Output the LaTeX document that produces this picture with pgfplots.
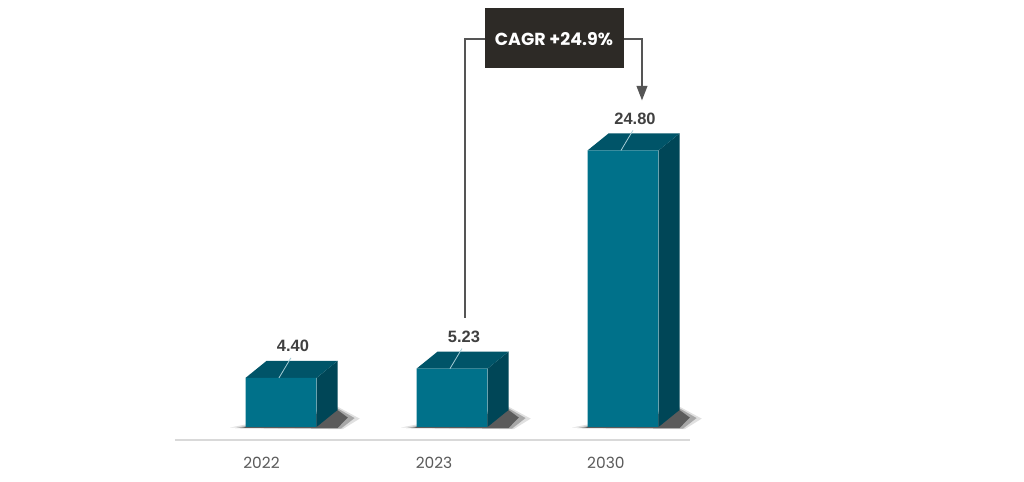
\documentclass[border=0pt]{standalone}
\usepackage{fontspec}
\setmainfont{Poppins}
\newfontfamily\valfont{Liberation Sans}
\usepackage{pgfplots}
\usepackage{pgfplotstable}
\pgfplotsset{compat=1.18}
\definecolor{frontc}{HTML}{00718A}
\definecolor{topc}{HTML}{005468}
\definecolor{sidec}{HTML}{004657}
\definecolor{boxc}{HTML}{2D2A26}
\definecolor{linec}{HTML}{555555}
\definecolor{yearc}{HTML}{5A5A5A}
\definecolor{valc}{HTML}{404040}
\pgfplotstableread{
x v
0 4.40
1 5.23
2 24.80
}\datatable
\pgfplotstablegetelem{0}{v}\of\datatable \let\va\pgfplotsretval
\pgfplotstablegetelem{1}{v}\of\datatable \let\vb\pgfplotsretval
\pgfplotstablegetelem{2}{v}\of\datatable \let\vc\pgfplotsretval
\def\dx{0.1228}
\def\dy{1.525}
\def\hw{0.2076}
\newcommand\sidefaces[3]{%
  % shadow (soft, layered)
  \fill[black,opacity=0.12] (axis cs:#1-\hw-0.09,-0.05) -- (axis cs:#1+\hw+\dx+0.03,-0.2)
     -- (axis cs:#1+\hw+\dx+0.13,0.75) -- (axis cs:#1+\hw+\dx,\dy+0.3) -- cycle;
  \fill[black,opacity=0.25] (axis cs:#1-\hw-0.06,-0.1) -- (axis cs:#1+\hw+\dx+0.02,-0.15)
     -- (axis cs:#1+\hw+\dx+0.1,0.8) -- (axis cs:#1+\hw+\dx,\dy+0.15) -- cycle;
  \fill[black,opacity=0.45] (axis cs:#1-\hw-0.03,-0.1) -- (axis cs:#1+\hw+\dx,-0.1)
     -- (axis cs:#1+\hw+\dx+0.06,0.85) -- (axis cs:#1+\hw+\dx,\dy) -- cycle;
  % side
  \fill[sidec] (axis cs:#1+\hw,0) -- (axis cs:#1+\hw,#2) -- (axis cs:#1+\hw+\dx,#2+\dy) -- (axis cs:#1+\hw+\dx,\dy) -- cycle;
  % top
  \fill[topc] (axis cs:#1-\hw,#2) -- (axis cs:#1+\hw,#2) -- (axis cs:#1+\hw+\dx,#2+\dy) -- (axis cs:#1-\hw+\dx,#2+\dy) -- cycle;
}
\newcommand\valuelabel[3]{%
  \draw[white!65!frontc, line width=0.8bp] (axis cs:#1-0.012,#2) -- (axis cs:#1+0.058,#2+1.8);
  \node[font=\valfont\bfseries\fontsize{16.5}{19}\selectfont, text=valc, anchor=center] at (axis cs:#1+0.07,#2+2.87) {#3};
}
\begin{document}
\begin{tikzpicture}
\begin{axis}[
  scale only axis, width=1024bp, height=482bp,
  xmin=-1.6433, xmax=4.345, ymin=-4.933, ymax=38.296,
  hide axis, clip=false,
]
\fill[white] (rel axis cs:0,0) rectangle (rel axis cs:1,1);
\draw[black!15, line width=1.5bp] (axis cs:-0.62,-1.166) -- (axis cs:2.392,-1.166);
\sidefaces{0}{\va}{}
\sidefaces{1}{\vb}{}
\sidefaces{2}{\vc}{}
\addplot[ybar, bar width=0.415, fill=frontc, draw=none] table[x=x,y=v] {\datatable};
\valuelabel{0}{\va}{4.40}
\valuelabel{1}{\vb}{5.23}
\valuelabel{2}{\vc}{24.80}
\node[text=yearc, font=\fontsize{15.5}{18}\selectfont] at (axis cs:-0.114,-3.23) {2022};
\node[text=yearc, font=\fontsize{15.5}{18}\selectfont] at (axis cs:0.895,-3.23) {2023};
\node[text=yearc, font=\fontsize{15.5}{18}\selectfont] at (axis cs:1.9,-3.23) {2030};
% CAGR annotation
\draw[linec, line width=1.8bp] (axis cs:1.193,34.80) -- (axis cs:1.076,34.80) -- (axis cs:1.076,9.776);
\draw[linec, line width=1.8bp] (axis cs:2.006,34.80) -- (axis cs:2.111,34.80) -- (axis cs:2.111,30.3);
\fill[linec] (axis cs:2.111,29.3) -- (axis cs:2.111-0.033,30.6) -- (axis cs:2.111+0.033,30.6) -- cycle;
\fill[boxc] (axis cs:1.193,32.20) rectangle (axis cs:2.006,37.58);
\node[text=white, font=\bfseries\fontsize{17.5}{20}\selectfont] at (axis cs:1.596,34.80) {CAGR +24.9\%};
\end{axis}
\end{tikzpicture}
\end{document}
